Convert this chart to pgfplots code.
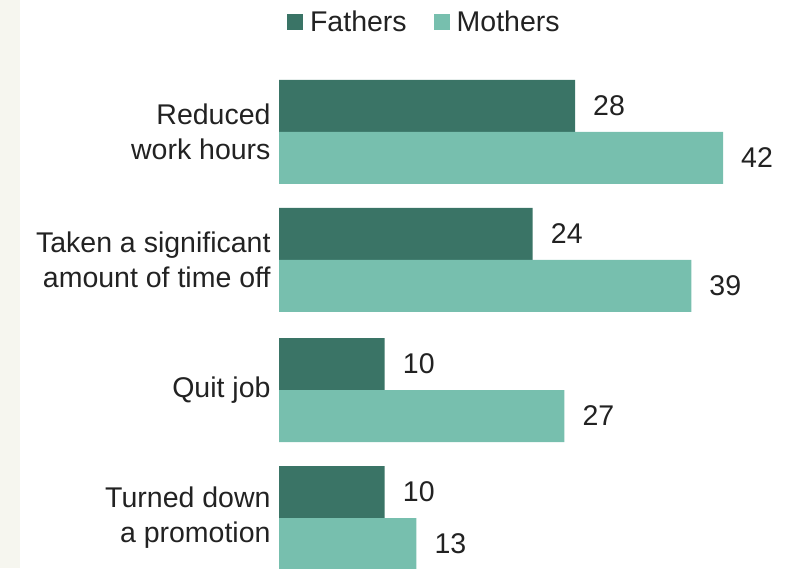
\documentclass[border=0pt]{standalone}
\usepackage{pgfplots}
\pgfplotsset{compat=1.18}
\usepackage{fontspec}
\setmainfont{Liberation Sans}
\definecolor{fath}{HTML}{3A7466}
\definecolor{moth}{HTML}{77BFAE}
\definecolor{txt}{HTML}{222222}
\definecolor{strip}{HTML}{F6F6EF}
\begin{document}
\begin{tikzpicture}[x=1pt,y=1pt]
\fill[strip] (0,0) rectangle (20,568);
\begin{axis}[
  at={(279pt,0pt)}, anchor=south west,
  scale only axis, width=518pt, height=568pt,
  xmin=0, xmax=49, ymin=0, ymax=568,
  xbar, bar width=52pt,
  /pgf/number format/assume math mode=true,
  axis line style={draw=none}, tick style={draw=none},
  xtick=\empty,
  ytick={436,308,178,50},
  yticklabels={{Reduced\\work hours},{Taken a significant\\amount of time off},{Quit job},{Turned down\\a promotion}},
  yticklabel style={font=\fontsize{28.5}{35}\selectfont, align=right, text=txt, inner sep=0pt, xshift=-4pt},
  nodes near coords,
  every node near coord/.append style={font=\fontsize{28.5}{30}\selectfont, text=txt, anchor=west, inner sep=0pt, xshift=18pt},
  legend columns=2,
  legend style={at={(axis cs:13.75,546)}, anchor=center, draw=none, fill=none,
    font=\fontsize{28.5}{30}\selectfont, text=txt,
    /tikz/every odd column/.append style={column sep=5pt},
    /tikz/every even column/.append style={column sep=25pt}},
  legend image code/.code={\fill[#1] (0pt,-8pt) rectangle (16pt,8pt);},
]
\addplot[draw=none, fill=fath, bar shift=26pt] coordinates {(28,436) (24,308) (10,178) (10,50)};
\addplot[draw=none, fill=moth, bar shift=-26pt] coordinates {(42,436) (39,308) (27,178) (13,50)};
\legend{Fathers,Mothers}
\end{axis}
\pgfresetboundingbox
\path (0,0) rectangle (797,568);
\end{tikzpicture}
\end{document}
